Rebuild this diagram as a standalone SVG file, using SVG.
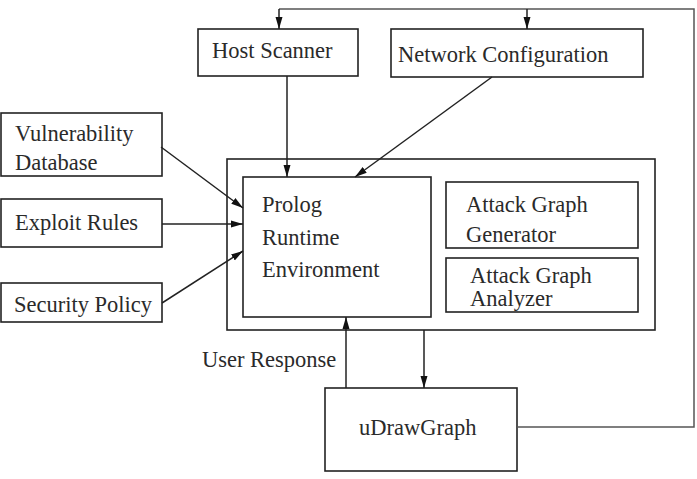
<svg xmlns="http://www.w3.org/2000/svg" width="697" height="479" viewBox="0 0 697 479">
<defs>
<style>
.box{fill:#fff;stroke:#222;stroke-width:1.6}
.t{font-family:"Liberation Serif","Times New Roman",serif;font-size:22.5px;fill:#2a2a2a}
.c{fill:none;stroke:#222;stroke-width:1.5}
.g{fill:none;stroke:#555;stroke-width:1.5}
</style>
<marker id="ah" viewBox="0 0 12 10" refX="12" refY="5" markerWidth="12" markerHeight="10" markerUnits="userSpaceOnUse" orient="auto">
<path d="M0,1.5 L12,5 L0,8.5 Z" fill="#111"/>
</marker>
</defs>
<rect width="697" height="479" fill="#fff"/>
<g id="host-scanner">
<rect class="box" x="198" y="29" width="160" height="47"/>
<text class="t" x="212" y="58">Host Scanner</text>
</g>
<g id="network-configuration">
<rect class="box" x="391" y="29" width="252" height="48"/>
<text class="t" x="398" y="62">Network Configuration</text>
</g>
<g id="vulnerability-database">
<rect class="box" x="1" y="113" width="161" height="63"/>
<text class="t" x="15" y="141">Vulnerability</text>
<text class="t" x="15" y="170">Database</text>
</g>
<g id="exploit-rules">
<rect class="box" x="1" y="199" width="161" height="48"/>
<text class="t" x="15" y="230">Exploit Rules</text>
</g>
<g id="security-policy">
<rect class="box" x="1" y="283" width="161" height="39"/>
<text class="t" x="14" y="312">Security Policy</text>
</g>
<g id="system">
<rect class="box" x="227" y="159" width="428" height="171"/>
</g>
<g id="prolog-runtime">
<rect class="box" x="243" y="177" width="188" height="140"/>
<text class="t" x="262" y="212">Prolog</text>
<text class="t" x="262" y="245">Runtime</text>
<text class="t" x="262" y="277">Environment</text>
</g>
<g id="attack-graph-generator">
<rect class="box" x="446" y="182" width="192" height="66"/>
<text class="t" x="466" y="212">Attack Graph</text>
<text class="t" x="466" y="242">Generator</text>
</g>
<g id="attack-graph-analyzer">
<rect class="box" x="446" y="258" width="192" height="54"/>
<text class="t" x="470" y="283">Attack Graph</text>
<text class="t" x="470" y="306">Analyzer</text>
</g>
<g id="udrawgraph">
<rect class="box" x="325" y="388" width="192" height="83"/>
<text class="t" x="359" y="435">uDrawGraph</text>
</g>
<g id="label-user-response">
<text class="t" x="202" y="367">User Response</text>
</g>
<g id="connectors">
<path class="g" d="M517,427 H694 V9 H279"/>
<path class="c" d="M279,9 V29" marker-end="url(#ah)"/>
<path class="c" d="M527,9 V29" marker-end="url(#ah)"/>
<path class="c" d="M287,76 V177" marker-end="url(#ah)"/>
<path class="c" d="M492,77 L355,177" marker-end="url(#ah)"/>
<path class="c" d="M161,147 L243,208" marker-end="url(#ah)"/>
<path class="c" d="M162,224 H243" marker-end="url(#ah)"/>
<path class="c" d="M162,303 L243,251" marker-end="url(#ah)"/>
<path class="c" d="M346,388 V317" marker-end="url(#ah)"/>
<path class="c" d="M424,330 V388" marker-end="url(#ah)"/>
</g>
</svg>
